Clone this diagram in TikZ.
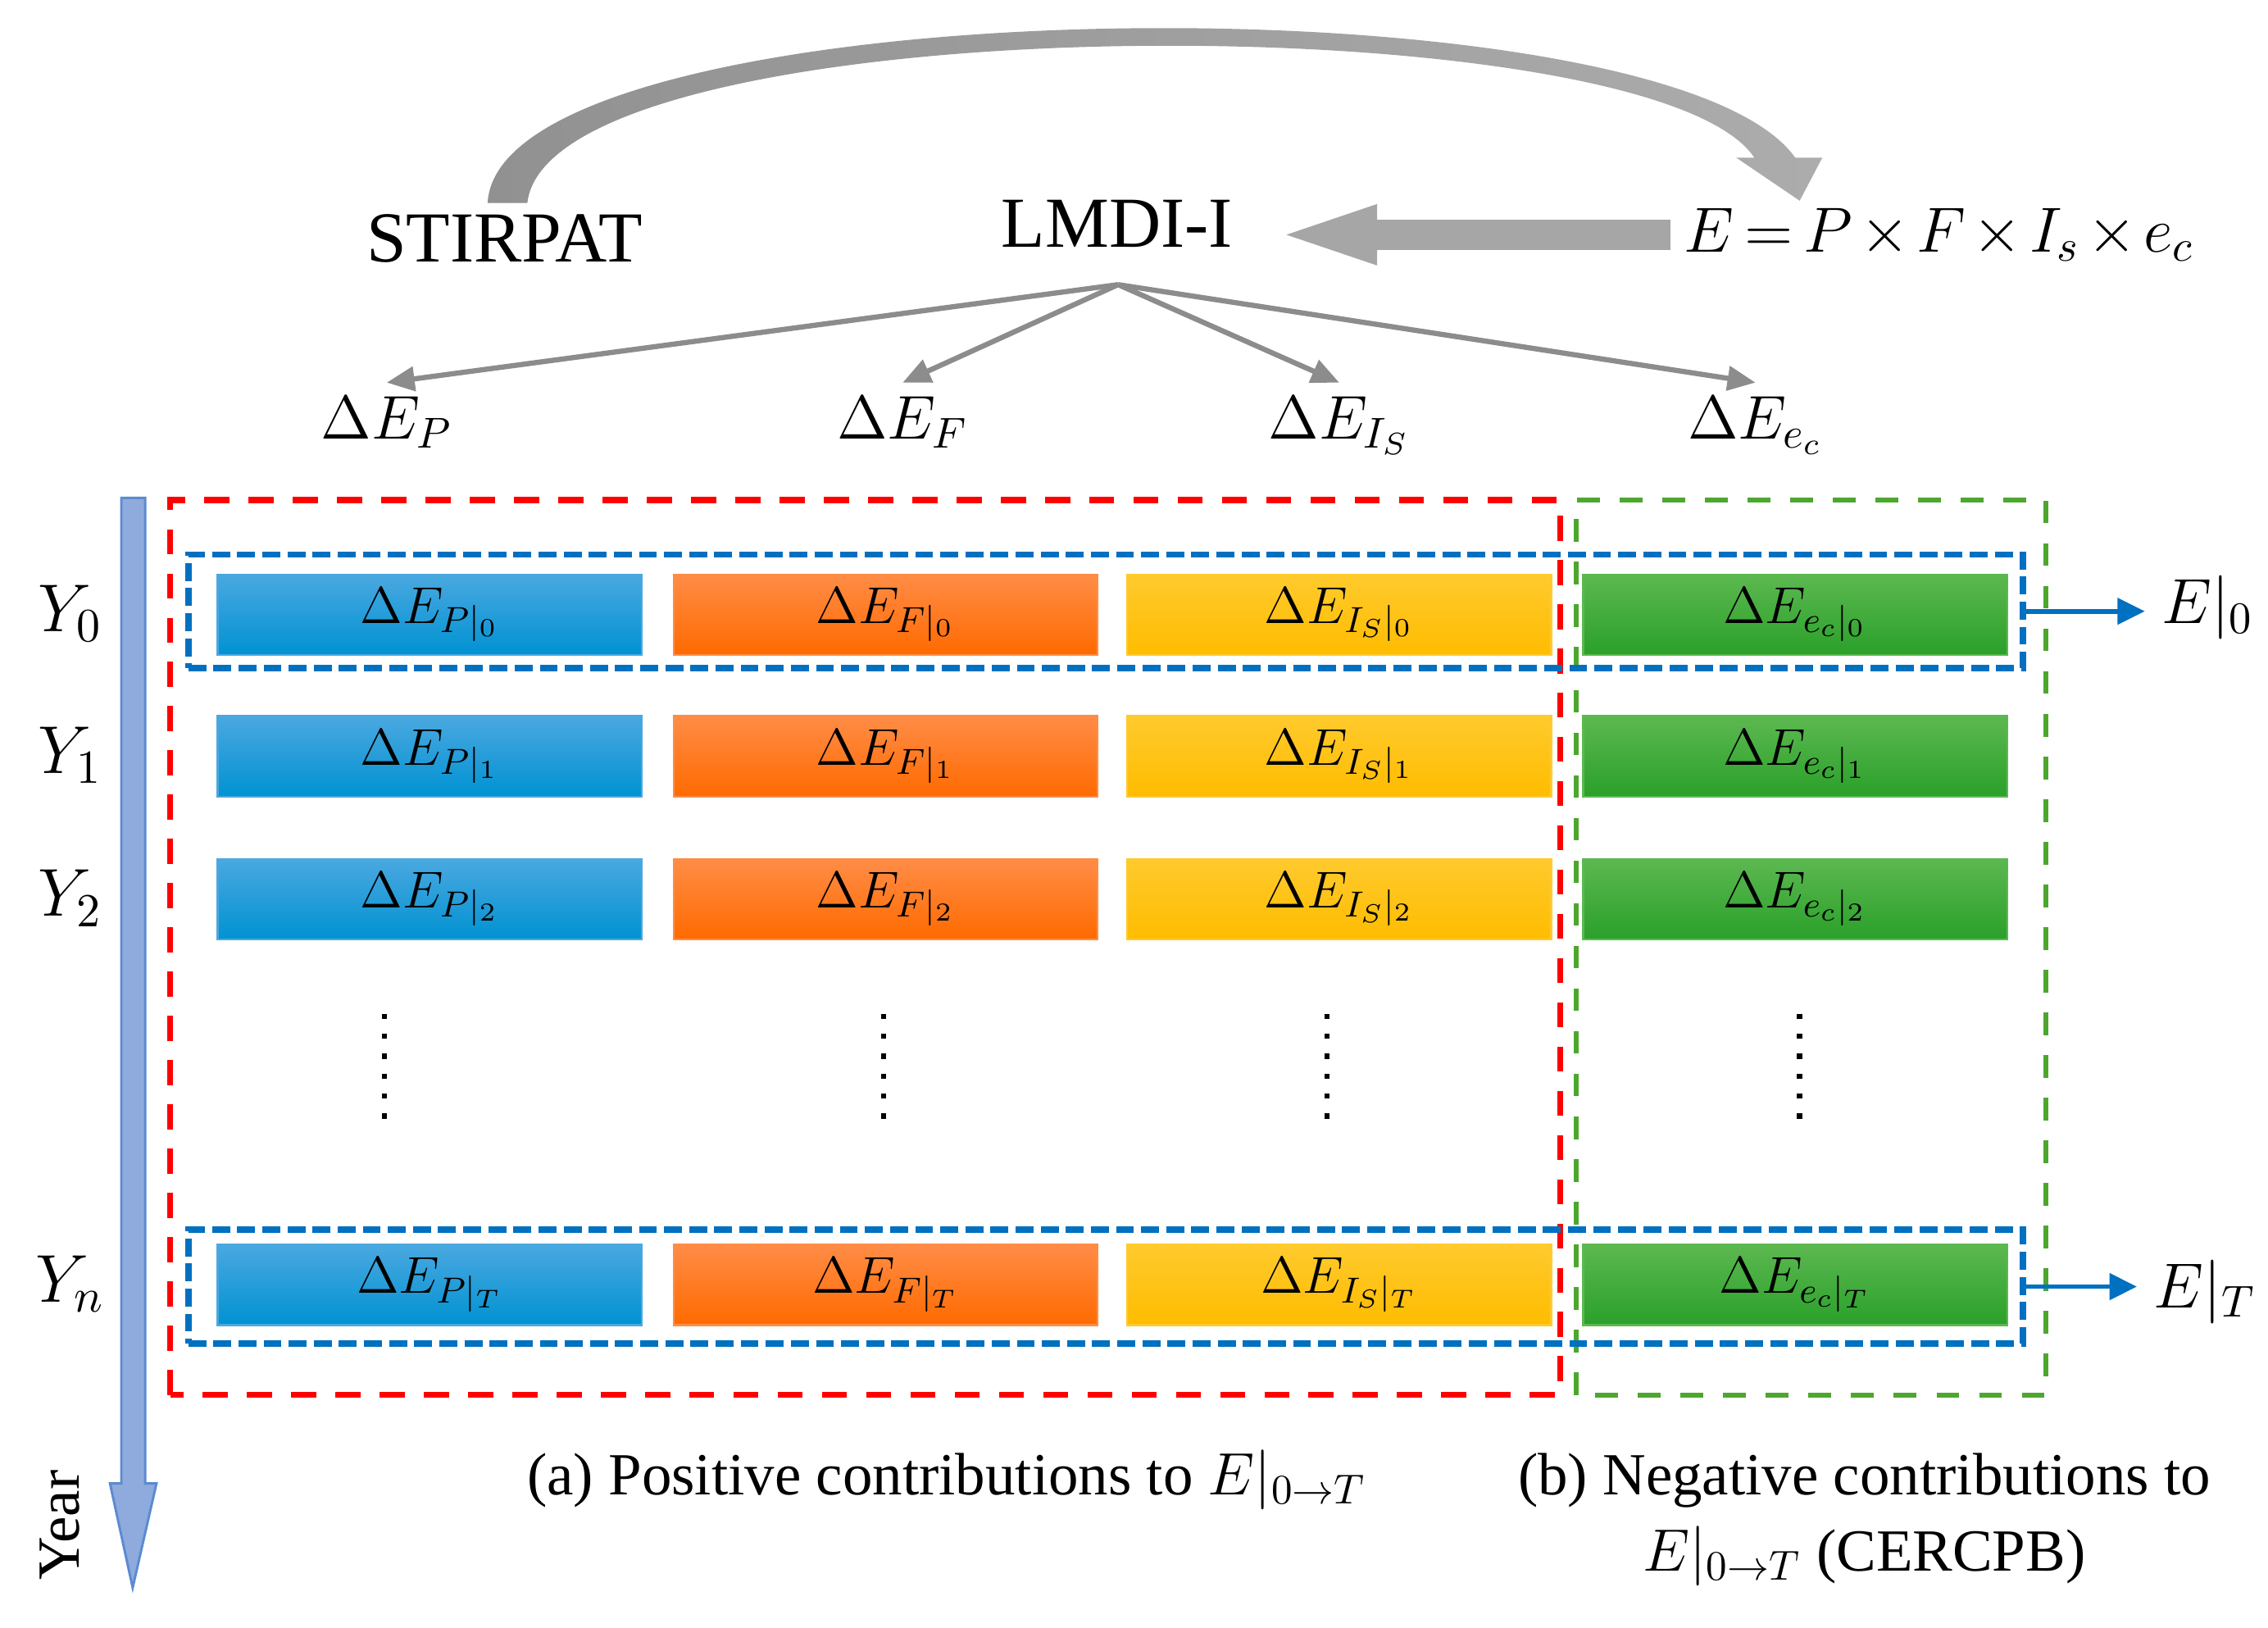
\RequirePackage{fix-cm}
\documentclass[tikz,border=0pt]{standalone}
\usepackage{amsmath}
\usepackage{amssymb}
\usepackage{fontspec}
\setmainfont{Liberation Serif}
\usepackage{tikz}
\usetikzlibrary{arrows.meta}
\definecolor{bar_blue_top}{RGB}{74,168,224}
\definecolor{bar_blue_bottom}{RGB}{0,146,210}
\definecolor{bar_orange_top}{RGB}{255,140,70}
\definecolor{bar_orange_bottom}{RGB}{255,106,0}
\definecolor{bar_yellow_top}{RGB}{255,202,45}
\definecolor{bar_yellow_bottom}{RGB}{255,188,0}
\definecolor{bar_green_top}{RGB}{92,184,80}
\definecolor{bar_green_bottom}{RGB}{42,160,42}
\definecolor{frame_red}{RGB}{255,0,0}
\definecolor{frame_green}{RGB}{77,167,46}
\definecolor{frame_blue}{RGB}{0,112,192}
\definecolor{year_fill}{RGB}{143,170,220}
\definecolor{year_edge}{RGB}{91,139,208}
\definecolor{arc_left}{RGB}{145,145,145}
\definecolor{arc_right}{RGB}{172,172,172}
\definecolor{fat_gray}{RGB}{166,166,166}
\definecolor{arrow_gray}{RGB}{140,140,140}

\begin{document}
\begin{tikzpicture}[
	toplabel/.style={anchor=base,font=\fontsize{18}{22}\selectfont},
	deltalabel/.style={anchor=base,font=\fontsize{15.5}{19}\selectfont},
	yearlabel/.style={anchor=base,font=\fontsize{17}{20}\selectfont},
	bar/.style={rectangle,minimum width=3.74cm,minimum height=0.71cm,inner sep=0pt,top color=#1_top,bottom color=#1_bottom,draw=#1_top,line width=0.5pt,font=\fontsize{13}{15}\selectfont},
	redframe/.style={draw=frame_red,line width=1.5pt,dash pattern=on 6.3pt off 4.8pt},
	greenframe/.style={draw=frame_green,line width=1.3pt,dash pattern=on 5.7pt off 5pt},
	blueframe/.style={rectangle,draw=frame_blue,line width=1.6pt,dash pattern=on 4.5pt off 1.8pt,inner sep=0pt,minimum width=16.18cm,minimum height=1cm},
	thinarrow/.style={draw=arrow_gray,line width=1.3pt,-{Triangle[length=7pt,width=6pt]}},
	fatarrow/.style={draw=fat_gray,line width=0.27cm,-{Triangle[length=1.02cm,width=0.43cm]}},
	sumarrow/.style={draw=frame_blue,line width=1.2pt,-{Triangle[length=6.9pt,width=6.5pt]}},
	dotline/.style={line width=1.3pt,dash pattern=on 1.3pt off 3.7pt},
	caption/.style={anchor=base,font=\fontsize{15}{19}\selectfont}
]
	\useasboundingbox (0,0) rectangle (20,14.35);

	% decomposition
	\node[toplabel] (stirpat) at (4.45,12.04) {STIRPAT};
	\node[toplabel] (lmdi) at (9.85,12.17) {LMDI-I};
	\node[anchor=base,font=\fontsize{16}{19}\selectfont] (formula) at (17.10,12.13) {\medmuskip=2mu\thickmuskip=3mu$E=P\times F\times I_s\times e_c$};

	\shade[left color=arc_left,right color=arc_right] (4.30,12.56) .. controls (4.40,14.48) and (14.67,14.60) .. (15.83,12.96) -- (16.07,12.96) -- (15.87,12.58) -- (15.31,12.96) -- (15.47,12.96) .. controls (14.54,14.35) and (4.85,14.32) .. (4.65,12.56) -- cycle;
	\draw[fatarrow,shorten >=0.13cm] (formula.west) -- (formula.west -| lmdi.east);

	\node[deltalabel] (dp) at (3.41,10.48) {$\Delta E_P$};
	\node[deltalabel] (df) at (7.96,10.48) {$\Delta E_F$};
	\node[deltalabel] (dis) at (11.81,10.48) {$\Delta E_{I_S}$};
	\node[deltalabel] (dec) at (15.48,10.48) {$\Delta E_{e_c}$};

	\coordinate (split) at (9.86,11.84);
	\foreach \t in {dp,df,dis,dec}
		\draw[thinarrow] (split) -- (\t.north);

	% frames
	\draw[redframe] (1.50,2.05) rectangle (13.76,9.94);
	\draw[greenframe] (13.90,2.05) rectangle (18.04,9.94);

	% yearly contributions
	\foreach \r/\y in {0/8.93,1/7.68,2/6.42,T/3.02}
		\foreach \c/\x/\col/\sub in {p/3.79/bar_blue/P,f/7.81/bar_orange/F,is/11.81/bar_yellow/I_S,ec/15.83/bar_green/e_c}
			\node[bar=\col] (\c\r) at (\x,\y) {$\Delta E_{\sub|_{\r}}$};

	\foreach \x in {3.39,7.79,11.70,15.87}
		\draw[dotline] (\x,5.41) -- (\x,4.47);

	\node[blueframe] (sum0) at (9.75,8.96) {};
	\node[blueframe] (sumT) at (9.75,3.005) {};

	\node[anchor=base west,inner sep=1pt,font=\fontsize{16}{19}\selectfont] (e0) at (19.02,8.85) {$E|_{0}$};
	\node[anchor=base west,inner sep=1pt,font=\fontsize{16}{19}\selectfont] (eT) at (18.95,2.82) {$E|_{T}$};
	\draw[sumarrow,shorten >=3pt] (sum0.east) -- (e0.west |- sum0.east);
	\draw[sumarrow,shorten >=3pt] (sumT.east) -- (eT.west |- sumT.east);

	% year axis
	\draw[fill=year_fill,draw=year_edge,line width=0.6pt] (1.07,9.96) -- (1.07,1.27) -- (0.97,1.27) -- (1.17,0.35) -- (1.38,1.27) -- (1.28,1.27) -- (1.28,9.96) -- cycle;
	\node[rotate=90,font=\fontsize{15}{18}\selectfont] (year) at (0.53,0.90) {Year};
	\foreach \r/\s/\y in {0/0/8.93,1/1/7.68,2/2/6.42,T/n/3.02}
		\node[yearlabel] (y\r) at (0.62,\y-0.15) {$Y_{\s}$};

	% captions
	\node[caption] (capa) at (8.35,1.17) {(a) Positive contributions to $E|_{0\to T}$};
	\node[caption,align=center] (capb) at (16.44,0.50) {(b) Negative contributions to\\$E|_{0\to T}$ (CERCPB)};
\end{tikzpicture}
\end{document}
